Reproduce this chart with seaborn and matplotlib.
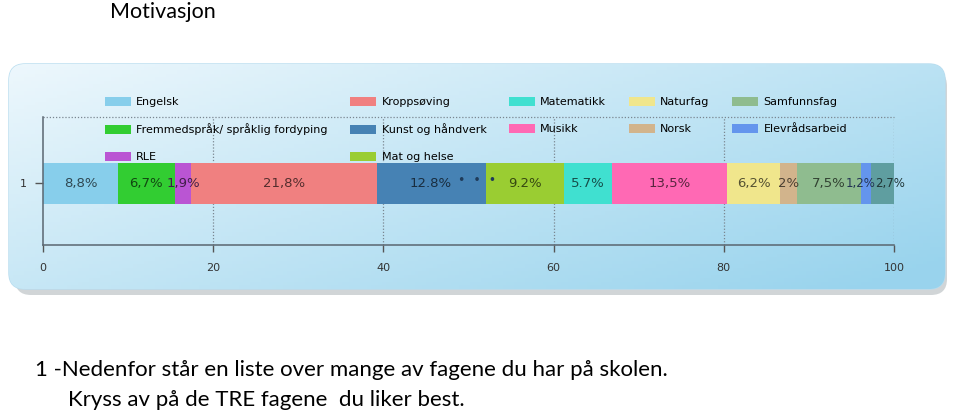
import numpy as np
import matplotlib
matplotlib.use("Agg")
import matplotlib.pyplot as plt
from matplotlib.patches import FancyBboxPatch, Patch
import seaborn as sns

# ---- data ----
subjects = ["Engelsk", "Fremmedspråk/ språklig fordyping", "RLE", "Kroppsøving",
            "Kunst og håndverk", "Mat og helse", "Matematikk", "Musikk",
            "Naturfag", "Norsk", "Samfunnsfag", "Elevrådsarbeid", "Annet"]
values = [8.8, 6.7, 1.9, 21.8, 12.8, 9.2, 5.7, 13.5, 6.2, 2.0, 7.5, 1.2, 2.7]
value_labels = ["8,8%", "6,7%", "1,9%", "21,8%", "12.8%", "9.2%", "5.7%",
                "13,5%", "6,2%", "2%", "7,5%", "1,2%", "2,7%"]
in_legend = [True] * 12 + [False]
colors = ["#87CEEB", "#32CD32", "#BA55D3", "#F08080", "#4682B4", "#9ACD32",
          "#40E0D0", "#FF69B4", "#F0E68C", "#D2B48C", "#8FBC8F", "#6495ED", "#5F9EA0"]
category = ["1"]
x_ticks = [0, 20, 40, 60, 80, 100]
title = "Motivasjon"
caption1 = "1 -Nedenfor står en liste over mange av fagene du har på skolen."
caption2 = "Kryss av på de TRE fagene  du liker best."

W, H = 959, 411
fig = plt.figure(figsize=(W / 100, H / 100), dpi=100)
fig.patch.set_facecolor("white")

# ---- background panel with gradient and shadow ----
bg = fig.add_axes([0, 0, 1, 1], zorder=0)
bg.set_xlim(0, W)
bg.set_ylim(H, 0)
bg.axis("off")
px0, py0, px1, py1 = 9, 64, 945, 289
shadow = FancyBboxPatch((px0 + 6, py0 + 6), px1 - px0 - 4, py1 - py0,
                        boxstyle="round,pad=0,rounding_size=16",
                        fc="#9aa3a8", ec="none", alpha=0.45)
bg.add_patch(shadow)
panel = FancyBboxPatch((px0, py0), px1 - px0, py1 - py0,
                       boxstyle="round,pad=0,rounding_size=16",
                       fc="none", ec="#b7dcef", lw=1.0)
bg.add_patch(panel)
gx = np.linspace(0, 1, 256)
gy = np.linspace(0, 1, 64)
GX, GY = np.meshgrid(gx, gy)
t = np.clip(0.6 * GX + 0.45 * GY, 0, 1)
c0 = np.array([0.93, 0.97, 0.99])
c1 = np.array([0.60, 0.83, 0.93])
img = c0[None, None, :] * (1 - t[..., None]) + c1[None, None, :] * t[..., None]
im = bg.imshow(img, extent=(px0, px1, py1, py0), aspect="auto", zorder=1)
im.set_clip_path(panel)

# ---- main axes ----
ax = fig.add_axes([43 / W, 1 - 245 / H, (894 - 43) / W, (245 - 117) / H], zorder=2)
ax.patch.set_alpha(0)

cum = np.cumsum(values)
for i in reversed(range(len(values))):
    sns.barplot(x=[cum[i]], y=category, orient="h", color=colors[i],
                width=0.8, saturation=1, ax=ax, linewidth=0)

ax.set_xlim(0, 100)
ax.set_ylim(1.21, -1.29)
ax.set_xticks(x_ticks)
ax.set_xticklabels([str(v) for v in x_ticks], fontsize=8, color="#333333")
ax.set_yticks([0])
ax.set_yticklabels(category, fontsize=8, color="#333333")
ax.set_xlabel("")
ax.set_ylabel("")
ax.tick_params(axis="x", length=5, width=1, color="#555555", pad=8)
ax.tick_params(axis="y", length=6, width=1, color="#555555", pad=6)
for s in ["top", "right"]:
    ax.spines[s].set_visible(False)
for s in ["left", "bottom"]:
    ax.spines[s].set_color("#5a6670")
    ax.spines[s].set_linewidth(1.1)
ax.grid(False)
for xv in x_ticks[1:]:
    ax.axvline(xv, color="#7a8690", lw=0.9, ls=(0, (1, 1.5)), zorder=0.5)
ax.axhline(-1.29, color="#7a8690", lw=0.9, ls=(0, (1, 1.5)), zorder=0.5, clip_on=False)

# value labels
starts = cum - np.array(values)
for i, (s, v, lab, c) in enumerate(zip(starts, values, value_labels, colors)):
    rgb = np.array(matplotlib.colors.to_rgb(c))
    tc = rgb * 0.35
    fs = 9.5
    xpos = s + v / 2
    if i == len(values) - 1:
        xpos += 0.9
        fs = 8.5
    if i == len(values) - 2:
        xpos -= 0.6
        fs = 8.5
    ax.text(xpos, 0, lab, ha="center", va="center", fontsize=fs,
            color=tc, zorder=5)
ax.text(51.0, -0.05, "•  •  •", ha="center", va="center", fontsize=9,
        color="#1f3b5a", zorder=6)

# legend
handles = [Patch(facecolor=c, edgecolor="none", label=n)
           for n, c, show in zip(subjects, colors, in_legend) if show]
fig.legend(handles=handles, loc="upper left", bbox_to_anchor=(105 / W, 1 - 97 / H),
           ncol=5, frameon=False, fontsize=8, handlelength=2.3, handleheight=0.9,
           handletextpad=0.5, columnspacing=2.05, labelspacing=1.45,
           borderaxespad=0, borderpad=0)

# texts
fig.text(110 / W, 1 - 12 / H, title, fontsize=15.5, family="Lato", va="center", ha="left")
fig.text(35 / W, 1 - 370 / H, caption1, fontsize=16, family="Lato", va="center", ha="left")
fig.text(68 / W, 1 - 400 / H, caption2, fontsize=16, family="Lato", va="center", ha="left")

fig.savefig("out.png", dpi=100)
